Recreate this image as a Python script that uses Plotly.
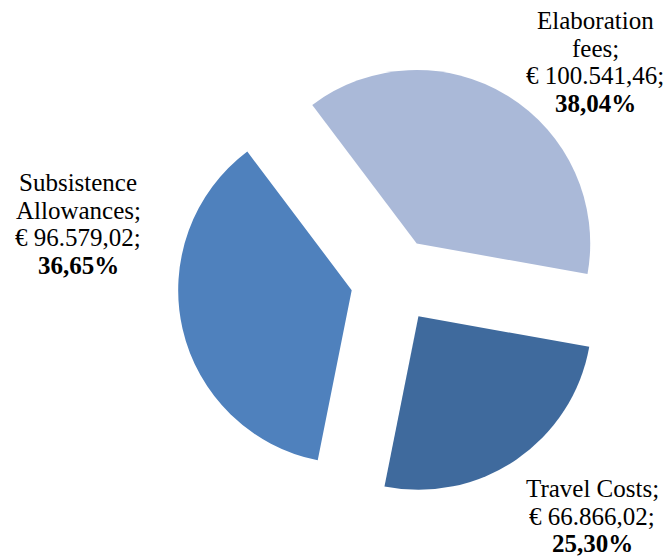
import plotly.graph_objects as go

# slice data, in drawing order (clockwise from the upper left)
categories = ["Elaboration fees", "Travel Costs", "Subsistence Allowances"]
amounts = [100541.46, 66866.02, 96579.02]
percents = [38.04, 25.30, 36.65]
colors = ["#aab9d8", "#3f6a9d", "#4f81bd"]

# label lines as they are wrapped in the chart
name_lines = [["Elaboration", "fees;"], ["Travel Costs;"], ["Subsistence", "Allowances;"]]


def eu(v, nd=2):
    s = f"{v:,.{nd}f}"
    return s.replace(",", "X").replace(".", ",").replace("X", ".")


W, H = 667, 557

fig = go.Figure(go.Pie(
    labels=categories,
    values=amounts,
    sort=False,
    direction="clockwise",
    rotation=-37,
    pull=0.25,
    marker=dict(colors=colors, line=dict(width=0)),
    textinfo="none",
    hoverinfo="label+value",
    showlegend=False,
    domain=dict(x=[0.2655, 0.9159], y=[0.107, 0.8858]),
))

# label blocks: centre x in px, first line centre y in px
label_pos = [(595, 20.5), (592, 488.5), (78, 182.5)]
line_gap = 27.7

annotations = []
for i, (cx, ty) in enumerate(label_pos):
    lines = list(name_lines[i]) + ["€ " + eu(amounts[i]) + ";", "<b>" + eu(percents[i]) + "%</b>"]
    for j, txt in enumerate(lines):
        annotations.append(dict(
            x=cx / W, y=1 - (ty + j * line_gap) / H,
            xref="paper", yref="paper",
            xanchor="center", yanchor="middle",
            text=txt, showarrow=False,
            font=dict(family="Liberation Serif", size=25, color="black"),
        ))

fig.update_layout(
    width=W, height=H,
    margin=dict(l=0, r=0, t=0, b=0),
    paper_bgcolor="white",
    plot_bgcolor="white",
    annotations=annotations,
)

# page body has a default 8px margin, drop it so the figure fills the window
fig.write_html("out.html", config={"displayModeBar": False},
               post_script="document.body.style.margin='0px';")
